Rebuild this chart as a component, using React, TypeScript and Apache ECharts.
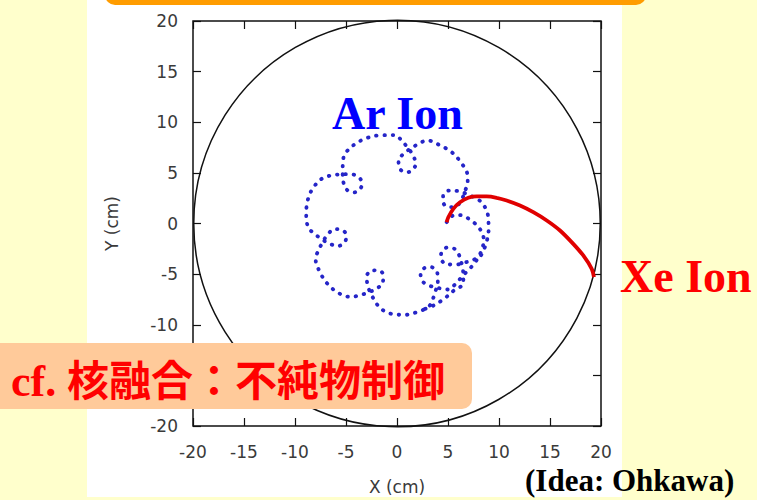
import React, { useEffect, useRef } from "react";
import * as echarts from "echarts";

// Chamber wall: center x, center y, radius (cm)
const chamberWall = [[0, 0, 20]];

// Y tick labels hidden under the note box in the reference
const hiddenYLabels = [-15];

// Ar ion trajectory (cm)
const arStartArc = [[4.87, 0.13], [5.2, 0.6], [5.75, 0.85], [6.4, 0.78], [7.16, 0.38], [7.8, -0.15], [8.28, -0.8], [8.5, -1.55], [8.4, -2.35], [8.1, -3.1], [7.65, -3.85], [7.1, -4.5], [6.5, -5.1], [5.8, -5.9]];
const arLoopBR1 = [[4.98, -6.52], [4.14, -6.39], [3.32, -6.19], [2.49, -5.7], [2.31, -4.93], [2.69, -4.4], [3.34, -4.31], [3.94, -4.81], [4.0, -5.77], [3.8, -6.6], [3.53, -7.41], [3.13, -8.18]];
const arArcBR1toB = [[2.09, -8.7], [0.79, -9.02], [-0.47, -8.94], [-1.59, -8.42]];
const arLoopB = [[-2.12, -7.73], [-2.53, -6.98], [-2.86, -6.2], [-2.97, -5.24], [-2.47, -4.64], [-1.82, -4.62], [-1.35, -5.07], [-1.39, -5.86], [-2.12, -6.49], [-2.9, -6.83], [-3.7, -7.11], [-4.57, -7.25]];
const arArcBtoL = [[-5.75, -6.86], [-6.83, -5.94], [-7.59, -4.74], [-7.98, -3.5]];
const arLoopL = [[-7.71, -2.67], [-7.32, -1.91], [-6.87, -1.19], [-6.14, -0.56], [-5.36, -0.64], [-4.98, -1.16], [-5.09, -1.8], [-5.76, -2.22], [-6.69, -1.97], [-7.41, -1.52], [-8.09, -1.01], [-8.7, -0.39]];
const arArcLtoUL = [[-8.9, 0.94], [-8.76, 2.27], [-8.24, 3.5], [-7.28, 4.49]];
const arLoopUL = [[-6.44, 4.74], [-5.6, 4.85], [-4.75, 4.88], [-3.82, 4.64], [-3.43, 3.95], [-3.66, 3.34], [-4.24, 3.07], [-4.97, 3.39], [-5.29, 4.29], [-5.33, 5.14], [-5.3, 5.99], [-5.12, 6.85]];
const arArcULtoTop = [[-4.16, 7.81], [-2.91, 8.46], [-1.54, 8.72], [-0.19, 8.73]];
const arLoopTop = [[0.48, 8.16], [1.03, 7.51], [1.52, 6.83], [1.83, 5.91], [1.46, 5.21], [0.83, 5.06], [0.28, 5.41], [0.15, 6.19], [0.73, 6.96], [1.42, 7.45], [2.15, 7.89], [2.97, 8.21]];
const arArcTopToR = [[4.2, 7.73], [5.37, 7.04], [6.26, 6.04], [6.9, 4.85]];
const arLoopR = [[6.93, 4.08], [6.69, 3.26], [6.39, 2.47], [5.81, 1.71], [5.02, 1.62], [4.54, 2.07], [4.52, 2.72], [5.1, 3.25], [6.06, 3.19], [6.86, 2.9], [7.63, 2.53], [8.35, 2.03]];
const arArcRtoBR2 = [[8.92, 0.78], [8.98, -0.6], [8.74, -1.94], [8.18, -3.21]];
const arLoopBR2 = [[7.41, -3.61], [6.6, -3.87], [5.77, -4.06], [4.81, -4.0], [4.3, -3.39], [4.41, -2.75], [4.94, -2.37], [5.71, -2.55], [6.19, -3.38], [6.38, -4.21], [6.51, -5.05], [6.49, -5.93]];
const arEndArc = [[5.56, -6.63], [4.64, -7.42], [3.6, -8.09], [2.6, -8.49]];

// Xe ion trajectory (cm)
const xePath = [[4.87, 0.13], [5.03, 0.62], [5.52, 1.45], [6.18, 2.1], [6.99, 2.54], [7.81, 2.67], [8.79, 2.67], [9.77, 2.54], [10.75, 2.27], [12.06, 1.78], [13.36, 1.12], [14.68, 0.3], [15.98, -0.69], [17.28, -2.01], [18.26, -3.16], [19.09, -4.48], [19.31, -5.3]];

const arPath = [
  ...arStartArc, ...arLoopBR1, ...arArcBR1toB, ...arLoopB, ...arArcBtoL, ...arLoopL,
  ...arArcLtoUL, ...arLoopUL, ...arArcULtoTop, ...arLoopTop, ...arArcTopToR, ...arLoopR,
  ...arArcRtoBR2, ...arLoopBR2, ...arEndArc,
];

export default function App() {
  const ref = useRef<HTMLDivElement>(null);
  useEffect(() => {
    const chart = echarts.init(ref.current!, null, { renderer: "svg" });
    const tick = { inside: true, length: 8, lineStyle: { color: "#111", width: 1.2 } };
    const lbl = { color: "#3a3a3a", fontSize: 17, fontFamily: "DejaVu Sans" };
    const axisBase = {
      type: "value" as const, min: -20, max: 20, interval: 5,
      axisLine: { show: false, onZero: false }, axisTick: tick, splitLine: { show: false },
    };
    chart.setOption({
      animation: false,
      backgroundColor: "#FFFFCC",
      grid: { left: 193, right: 156, top: 21, bottom: 74, show: true, borderColor: "#111", borderWidth: 1.5, backgroundColor: "transparent" },
      xAxis: [
        { ...axisBase, position: "bottom", axisLabel: { ...lbl, margin: 17 }, name: "X (cm)", nameLocation: "middle", nameGap: 52, nameTextStyle: lbl },
        { ...axisBase, position: "top", axisLabel: { show: false } },
      ],
      yAxis: [
        {
          ...axisBase, position: "left",
          axisLabel: { ...lbl, margin: 15, formatter: (v: number) => (hiddenYLabels.includes(v) ? "" : String(v)) },
          name: "Y (cm)", nameLocation: "middle", nameGap: 73, nameRotate: 90, nameTextStyle: lbl,
        },
        { ...axisBase, position: "right", axisLabel: { show: false } },
      ],
      graphic: {
        elements: [
          { type: "rect", z: -10, shape: { x: 87, y: 0, width: 535, height: 497 }, style: { fill: "#FFFFFF" } },
          { type: "rect", z: 50, shape: { x: 105, y: -20, width: 541, height: 25, r: 10 }, style: { fill: "#FF9C00" } },
          { type: "text", z: 60, x: 332, y: 113, style: { text: "Ar Ion", fill: "#0000FF", font: "bold 46px 'Liberation Serif'", align: "left", verticalAlign: "middle" } },
          { type: "text", z: 60, x: 620, y: 276, style: { text: "Xe Ion", fill: "#FF0000", font: "bold 46px 'Liberation Serif'", align: "left", verticalAlign: "middle" } },
          { type: "rect", z: 60, shape: { x: -10, y: 343, width: 482, height: 66, r: 10 }, style: { fill: "#FFCA9A" } },
          { type: "text", z: 70, x: 11, y: 381, style: { text: "cf.", fill: "#FF0000", font: "bold 44px 'Liberation Serif'", align: "left", verticalAlign: "middle" } },
          { type: "text", z: 70, x: 67, y: 377, style: { text: "核融合：不純物制御", fill: "#FF0000", font: "bold 42px 'Noto Sans CJK JP'", align: "left", verticalAlign: "middle" } },
          { type: "text", z: 70, x: 525, y: 480, style: { text: "(Idea: Ohkawa)", fill: "#000000", font: "bold 31px 'Liberation Serif'", align: "left", verticalAlign: "middle" } },
        ],
      },
      series: [
        {
          type: "custom", xAxisIndex: 0, yAxisIndex: 0, data: chamberWall, silent: true,
          renderItem: (_p: any, api: any) => {
            const c = api.coord([api.value(0), api.value(1)]);
            const s = api.size([api.value(2), api.value(2)]);
            return { type: "circle", shape: { cx: c[0], cy: c[1], r: (s[0] + s[1]) / 2 }, style: { fill: "none", stroke: "#111", lineWidth: 1.5 } };
          },
        },
        {
          type: "line", name: "Ar Ion", data: arPath, showSymbol: false, smooth: 0.35, silent: true,
          lineStyle: { color: "#2525c8", width: 3.8, type: [0.5, 7.8], cap: "round" },
        },
        {
          type: "line", name: "Xe Ion", data: xePath, showSymbol: false, smooth: 0.3, silent: true,
          lineStyle: { color: "#E00000", width: 3.8 },
        },
      ],
    });
    return () => chart.dispose();
  }, []);
  return <div ref={ref} style={{ position: "fixed", left: 0, top: 0, width: 757, height: 500 }} />;
}
